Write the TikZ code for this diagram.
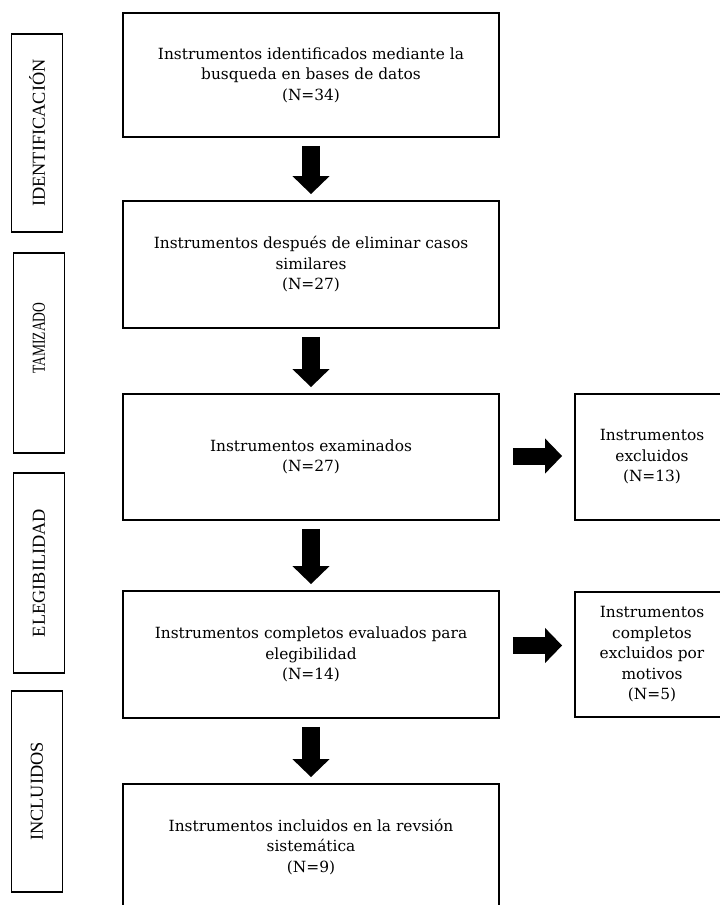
\documentclass[tikz,border=0pt]{standalone}
\usepackage{fontspec}
\usepackage{graphicx}
\setmainfont{DejaVu Serif}
\newfontfamily\tagfont{Liberation Serif}
\usetikzlibrary{arrows.meta}
\begin{document}
\begin{tikzpicture}[x=1pt,y=-1pt,
  box/.style={draw, line width=1.8pt, align=center, inner sep=0pt,
    font=\fontsize{15.4}{20.5}\selectfont},
  mainbox/.style={box, minimum width=376pt},
  sidebox/.style={box, minimum width=154pt},
  tag/.style={draw, line width=1.8pt, rotate=90, inner sep=0pt,
    minimum height=51pt, font=\tagfont\fontsize{18.3}{20}\selectfont},
  down/.style={line width=18pt, -{Triangle[length=18pt,width=36pt]},
    shorten <=8pt, shorten >=6pt},
  side/.style={line width=17pt, -{Triangle[length=17pt,width=34pt]},
    shorten <=13pt, shorten >=12pt}
]
\useasboundingbox (0,0) rectangle (720,905);
\clip (0,0) rectangle (720,905);
\fill[white] (0,0) rectangle (720,905);

% stage labels on the left
\node[tag, minimum width=198pt] (t1) at (37,133) {IDENTIFICACIÓN};
\node[tag, minimum width=200pt] (t2) at (39,353) {\hspace*{30pt}\scalebox{0.74}[1]{TAMIZADO}};
\node[tag, minimum width=200pt] (t3) at (39,573) {ELEGIBILIDAD};
\node[tag, minimum width=201pt] (t4) at (37,791.5) {INCLUIDOS};

% main flow
\node[mainbox, minimum height=124pt] (b1) at (311,75)
  {Instrumentos identificados mediante la\\busqueda en bases de datos\\(N=34)};
\node[mainbox, minimum height=127pt] (b2) at (311,264.5)
  {Instrumentos después de eliminar casos\\similares\\(N=27)};
\node[mainbox, minimum height=126pt] (b3) at (311,457)
  {Instrumentos examinados\\(N=27)};
\node[mainbox, minimum height=127pt] (b4) at (311,654.5)
  {Instrumentos completos evaluados para\\elegibilidad\\(N=14)};
\node[mainbox, minimum height=126pt] (b5) at (311,847)
  {Instrumentos incluidos en la revsión\\sistemática\\(N=9)};

% exclusions
\node[sidebox, minimum height=126pt] (e1) at (652,457)
  {Instrumentos\\excluidos\\(N=13)};
\node[sidebox, minimum height=125pt] (e2) at (652,654.5)
  {Instrumentos\\completos\\excluidos por\\motivos\\(N=5)};

% arrows
\draw[down] (b1.south) -- (b2.north);
\draw[down] (b2.south) -- (b3.north);
\draw[down] (b3.south) -- (b4.north);
\draw[down] (b4.south) -- (b5.north);
\draw[side] ([yshift=1pt]b3.east) -- ([yshift=1pt]e1.west);
\draw[side] ([yshift=9pt]b4.east) -- ([yshift=9pt]e2.west);
\end{tikzpicture}
\end{document}
